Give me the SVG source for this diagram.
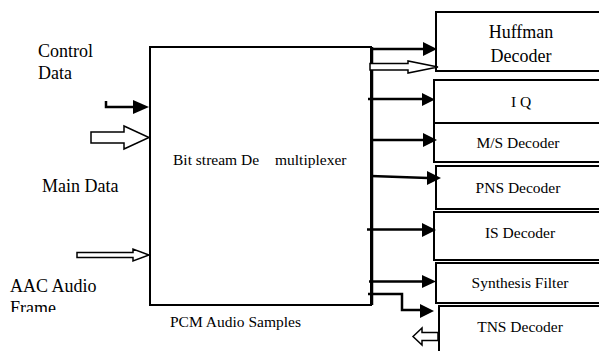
<svg xmlns="http://www.w3.org/2000/svg" width="599" height="351" viewBox="0 0 599 351">
<style>
text{font-family:"Liberation Serif","Times New Roman",serif;fill:#000}
.big{font-size:18px}
.sm{font-size:15.5px}
.box{fill:#fff;stroke:#000;stroke-width:2}
.ln{fill:none;stroke:#000;stroke-width:2.5}
.hd{fill:#000;stroke:none}
.hollow{fill:#fff;stroke:#000;stroke-width:1.5}
</style>
<defs>
<clipPath id="frameClip"><rect x="0" y="0" width="150" height="312"/></clipPath>
</defs>
<rect width="599" height="351" fill="#fff"/>

<g id="labels">
<text class="big" x="38" y="57">Control</text>
<text class="big" x="38" y="79">Data</text>
<text class="big" x="42" y="191.5">Main Data</text>
<text class="big" x="10" y="291.5">AAC Audio</text>
<text class="big" x="10" y="313.5" clip-path="url(#frameClip)">Frame</text>
<text class="sm" x="170" y="327">PCM Audio Samples</text>
</g>

<g id="demux">
<rect class="box" x="150" y="47" width="221" height="258"/>
<text class="sm" x="173" y="165">Bit stream De <tspan x="275">multiplexer</tspan></text>
</g>

<g id="huffman">
<rect class="box" x="436" y="12" width="180" height="59"/>
<text class="big" x="521" y="38" text-anchor="middle">Huffman</text>
<text class="big" x="521" y="62" text-anchor="middle">Decoder</text>
</g>
<g id="iq">
<rect class="box" x="434" y="80" width="180" height="43"/>
<text class="sm" x="521" y="107" text-anchor="middle">I Q</text>
</g>
<g id="ms">
<rect class="box" x="434" y="123" width="180" height="39"/>
<text class="sm" x="518" y="148" text-anchor="middle">M/S Decoder</text>
</g>
<g id="pns">
<rect class="box" x="436" y="166" width="180" height="43"/>
<text class="sm" x="518" y="193" text-anchor="middle">PNS Decoder</text>
</g>
<g id="is">
<rect class="box" x="434" y="212" width="180" height="48"/>
<text class="sm" x="520" y="238" text-anchor="middle">IS Decoder</text>
</g>
<g id="synthesis">
<rect class="box" x="436" y="263" width="180" height="40"/>
<text class="sm" x="520" y="288" text-anchor="middle">Synthesis Filter</text>
</g>
<g id="tns">
<rect class="box" x="439" y="306" width="180" height="60"/>
<text class="sm" x="520" y="332" text-anchor="middle">TNS Decoder</text>
</g>

<g id="connectors">
<path class="ln" d="M106,101 V107 H134"/>
<polygon class="hd" points="133,100 149,107 133,114"/>
<polygon class="hollow" points="91,132 124,132 124,126 149,137.5 124,149 124,143 91,143"/>
<polygon class="hollow" points="77,252.5 133,252.5 133,249 149,255 133,261 133,257.5 77,257.5"/>
<line class="ln" x1="372" y1="47" x2="372" y2="305"/>
<line class="ln" x1="371" y1="49" x2="424" y2="49"/>
<polygon class="hd" points="423,42 437,49 423,56"/>
<polygon class="hollow" points="370,63.5 408,63.5 408,61 438,67 408,73 408,70 370,70"/>
<line class="ln" x1="368" y1="99" x2="423" y2="99"/>
<polygon class="hd" points="422,93 435,99.5 422,106"/>
<line class="ln" x1="371" y1="140" x2="424" y2="140"/>
<polygon class="hd" points="423,133 437,140 423,147"/>
<line class="ln" x1="371" y1="176" x2="428" y2="178"/>
<polygon class="hd" points="427,171 441,178 427,185"/>
<line class="ln" x1="367" y1="229.5" x2="423" y2="229.5"/>
<polygon class="hd" points="422,223 436,230 422,237"/>
<line class="ln" x1="369" y1="281.5" x2="423" y2="281.5"/>
<polygon class="hd" points="422,275 436,281.5 422,288"/>
<path class="ln" d="M368,294 H402 V310 H421"/>
<polygon class="hd" points="420,304 434,311 420,318"/>
<polygon class="hollow" points="413,336.5 422,328 422,332.5 438,332.5 438,340.5 422,340.5 422,345"/>
</g>
</svg>
